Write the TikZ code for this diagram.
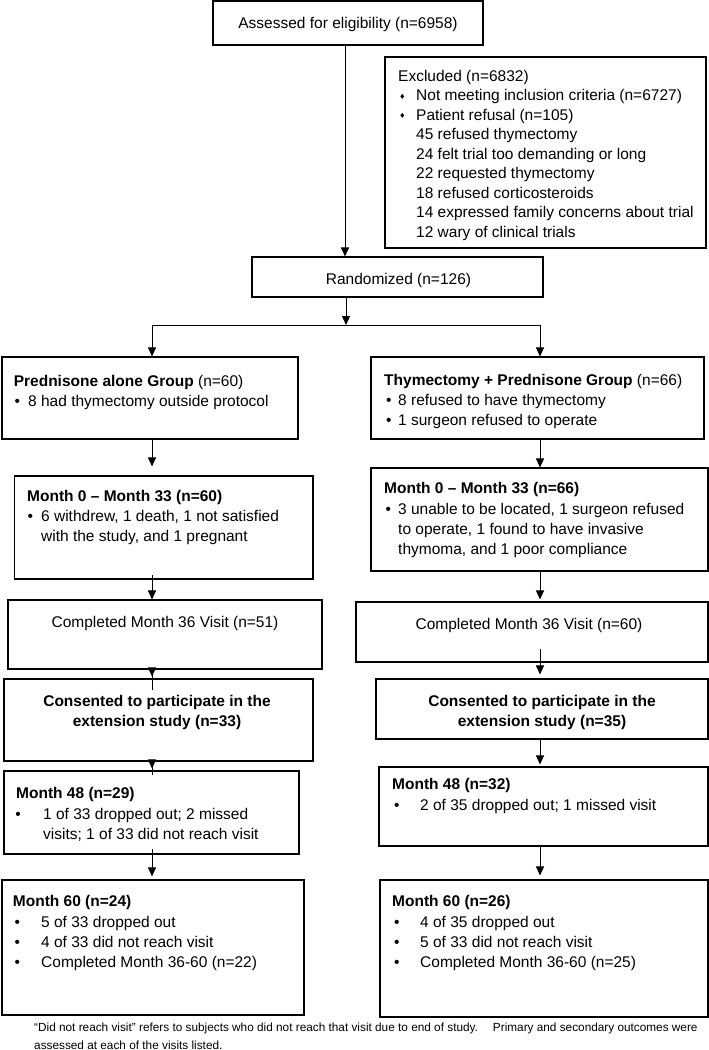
\documentclass[tikz,border=0pt]{standalone}
\usepackage{fontspec}
\setmainfont{Liberation Sans}
\usetikzlibrary{arrows.meta,fit}
\newcommand\fsmain{\fontsize{15.5}{20}\selectfont}
\newcommand\fsex{\fontsize{15.5}{19.5}\selectfont}
\newcommand\fsfoot{\fontsize{11.8}{18}\selectfont}
\newcommand\dmd{{\fontsize{9}{9}\selectfont\raisebox{1.5pt}{♦}}}
\begin{document}
\begin{tikzpicture}[x=1pt,y=-1pt,
  boxst/.style={draw=black, line width=1.1pt, inner sep=0pt},
  txt/.style={inner sep=0pt, font=\fsmain},
  arr/.style={line width=1pt, -{Triangle[length=9pt,width=8pt]}}]
\useasboundingbox (0,0) rectangle (709,1050);
% boxes
\node[boxst, fit={(213,1) (483,45)}] (assess) {};
\node[boxst, fit={(385,57) (706,248)}] (excl) {};
\node[boxst, fit={(252,257) (543,297)}] (rand) {};
\node[boxst, fit={(2,357) (298,439)}] (grpL) {};
\node[boxst, fit={(371,357) (704,439)}] (grpR) {};
\node[boxst, fit={(14.5,476) (313,579)}] (m0L) {};
\node[boxst, fit={(371,468) (708,571)}] (m0R) {};
\node[boxst, fit={(8,600) (322,669)}] (compL) {};
\node[boxst, fit={(356,602) (708,662)}] (compR) {};
\node[boxst, fit={(4,679) (313,761)}] (consL) {};
\node[boxst, fit={(376,679) (708,739)}] (consR) {};
\node[boxst, fit={(4,771) (299,854)}] (m48L) {};
\node[boxst, fit={(379,767) (708,846)}] (m48R) {};
\node[boxst, fit={(2,880) (304,1015)}] (m60L) {};
\node[boxst, fit={(380,880) (708,1017)}] (m60R) {};
% texts
\node[txt, anchor=base] (assessT) at (348,28) {Assessed for eligibility (n=6958)};
\node[txt, font=\fsex, anchor=base west] (exT) at (398,81) {Excluded (n=6832)};
\node[txt, font=\fsex, align=left, anchor=north west] (exB) at (400,86.85) {\strut\dmd\\\dmd};
\node[txt, font=\fsex, align=left, anchor=north west] (exL) at (416,86.85) {\strut Not meeting inclusion criteria (n=6727)\\Patient refusal (n=105)\\45 refused thymectomy\\24 felt trial too demanding or long\\22 requested thymectomy\\18 refused corticosteroids\\14 expressed family concerns about trial\\12 wary of clinical trials};
\node[txt, anchor=base] (randT) at (398.5,284) {Randomized (n=126)};
\node[txt, anchor=base west] (grpLT) at (13.6,386.5) {\textbf{Prednisone alone Group} (n=60)};
\node[txt, anchor=base west] (grpLB) at (14.3,406.5) {•};
\node[txt, anchor=base west] (grpLL) at (28,406.5) {8 had thymectomy outside protocol};
\node[txt, anchor=base west] (grpRT) at (384,385.5) {\textbf{Thymectomy + Prednisone Group} (n=66)};
\node[txt, align=left, anchor=north west] (grpRB) at (385.8,391.7) {\strut•\\•};
\node[txt, align=left, anchor=north west] (grpRL) at (398,391.7) {\strut 8 refused to have thymectomy\\1 surgeon refused to operate};
\node[txt, anchor=base west] (m0LT) at (27,501) {\textbf{Month 0 – Month 33 (n=60)}};
\node[txt, anchor=base west] (m0LB) at (27.3,521.5) {•};
\node[txt, align=left, anchor=north west] (m0LL) at (41,507.5) {\strut 6 withdrew, 1 death, 1 not satisfied\\with the study, and 1 pregnant};
\node[txt, anchor=base west] (m0RT) at (384,493) {\textbf{Month 0 – Month 33 (n=66)}};
\node[txt, anchor=base west] (m0RB) at (385.3,514) {•};
\node[txt, align=left, anchor=north west] (m0RL) at (398,500) {\strut 3 unable to be located, 1 surgeon refused\\to operate, 1 found to have invasive\\thymoma, and 1 poor compliance};
\node[txt, anchor=base] (compLT) at (165,627) {Completed Month 36 Visit (n=51)};
\node[txt, anchor=base] (compRT) at (529,629) {Completed Month 36 Visit (n=60)};
\node[txt, align=center, anchor=north, font=\fsmain\bfseries] (consLT) at (157,692.5) {\strut Consented to participate in the\\extension study (n=33)};
\node[txt, align=center, anchor=north, font=\fsmain\bfseries] (consRT) at (542,692.5) {\strut Consented to participate in the\\extension study (n=35)};
\node[txt, anchor=base west] (m48LT) at (16,798) {\textbf{Month 48 (n=29)}};
\node[txt, anchor=base west] (m48LB) at (15.3,819) {•};
\node[txt, align=left, anchor=north west] (m48LL) at (43,805) {\strut 1 of 33 dropped out; 2 missed\\visits; 1 of 33 did not reach visit};
\node[txt, anchor=base west] (m48RT) at (392,789.5) {\textbf{Month 48 (n=32)}};
\node[txt, anchor=base west] (m48RB) at (393.9,810) {•};
\node[txt, anchor=base west] (m48RL) at (420,810) {2 of 35 dropped out; 1 missed visit};
\node[txt, anchor=base west] (m60LT) at (12.7,906) {\textbf{Month 60 (n=24)}};
\node[txt, align=left, anchor=north west] (m60LB) at (14.3,913) {\strut•\\•\\•};
\node[txt, align=left, anchor=north west] (m60LL) at (41,913) {\strut 5 of 33 dropped out\\4 of 33 did not reach visit\\Completed Month 36-60 (n=22)};
\node[txt, anchor=base west] (m60RT) at (392,906) {\textbf{Month 60 (n=26)}};
\node[txt, align=left, anchor=north west] (m60RB) at (393.9,913) {\strut•\\•\\•};
\node[txt, align=left, anchor=north west] (m60RL) at (420,913) {\strut 4 of 35 dropped out\\5 of 33 did not reach visit\\Completed Month 36-60 (n=25)};
\node[txt, font=\fsfoot, anchor=base west] (foot1) at (34,1031.5) {“Did not reach visit” refers to subjects who did not reach that visit due to end of study.\hspace{15pt}Primary and secondary outcomes were};
\node[txt, font=\fsfoot, anchor=base west] (foot2) at (34,1049) {assessed at each of the visits listed.};
% connectors
\coordinate (cT) at (345,0);
\coordinate (cS) at (346,325);
\coordinate (cL) at (152,0);
\coordinate (cR) at (540,0);
\draw[arr] (assess.south -| cT) -- (rand.north -| cT);
\draw[arr] (rand.south -| cS) -- (cS);
\draw[arr] (cS) -| (grpL.north -| cL);
\draw[arr] (cS) -| (grpR.north -| cR);
\draw[arr, shorten >=9pt] (grpL.south -| cL) -- (m0L.north -| cL);
\draw[arr] (grpR.south -| cR) -- (m0R.north -| cR);
\draw[arr, shorten <=-5pt] (m0L.south -| cL) -- (compL.north -| cL);
\draw[arr, shorten >=2pt] (m0R.south -| cR) -- (compR.north -| cR);
\draw[arr, shorten <=-20pt, shorten >=2pt] (compL.south -| cL) -- (consL.north -| cL);
\draw[arr, shorten <=-14pt, shorten >=4pt] (compR.south -| cR) -- (consR.north -| cR);
\draw[arr, shorten <=-13pt, shorten >=2pt] (consL.south -| cL) -- (m48L.north -| cL);
\draw[arr, shorten <=-2pt, shorten >=2pt] (consR.south -| cR) -- (m48R.north -| cR);
\draw[arr, shorten <=-6pt, shorten >=3pt] (m48L.south -| cL) -- (m60L.north -| cL);
\draw[arr, shorten >=4pt] (m48R.south -| cR) -- (m60R.north -| cR);
\end{tikzpicture}
\end{document}
